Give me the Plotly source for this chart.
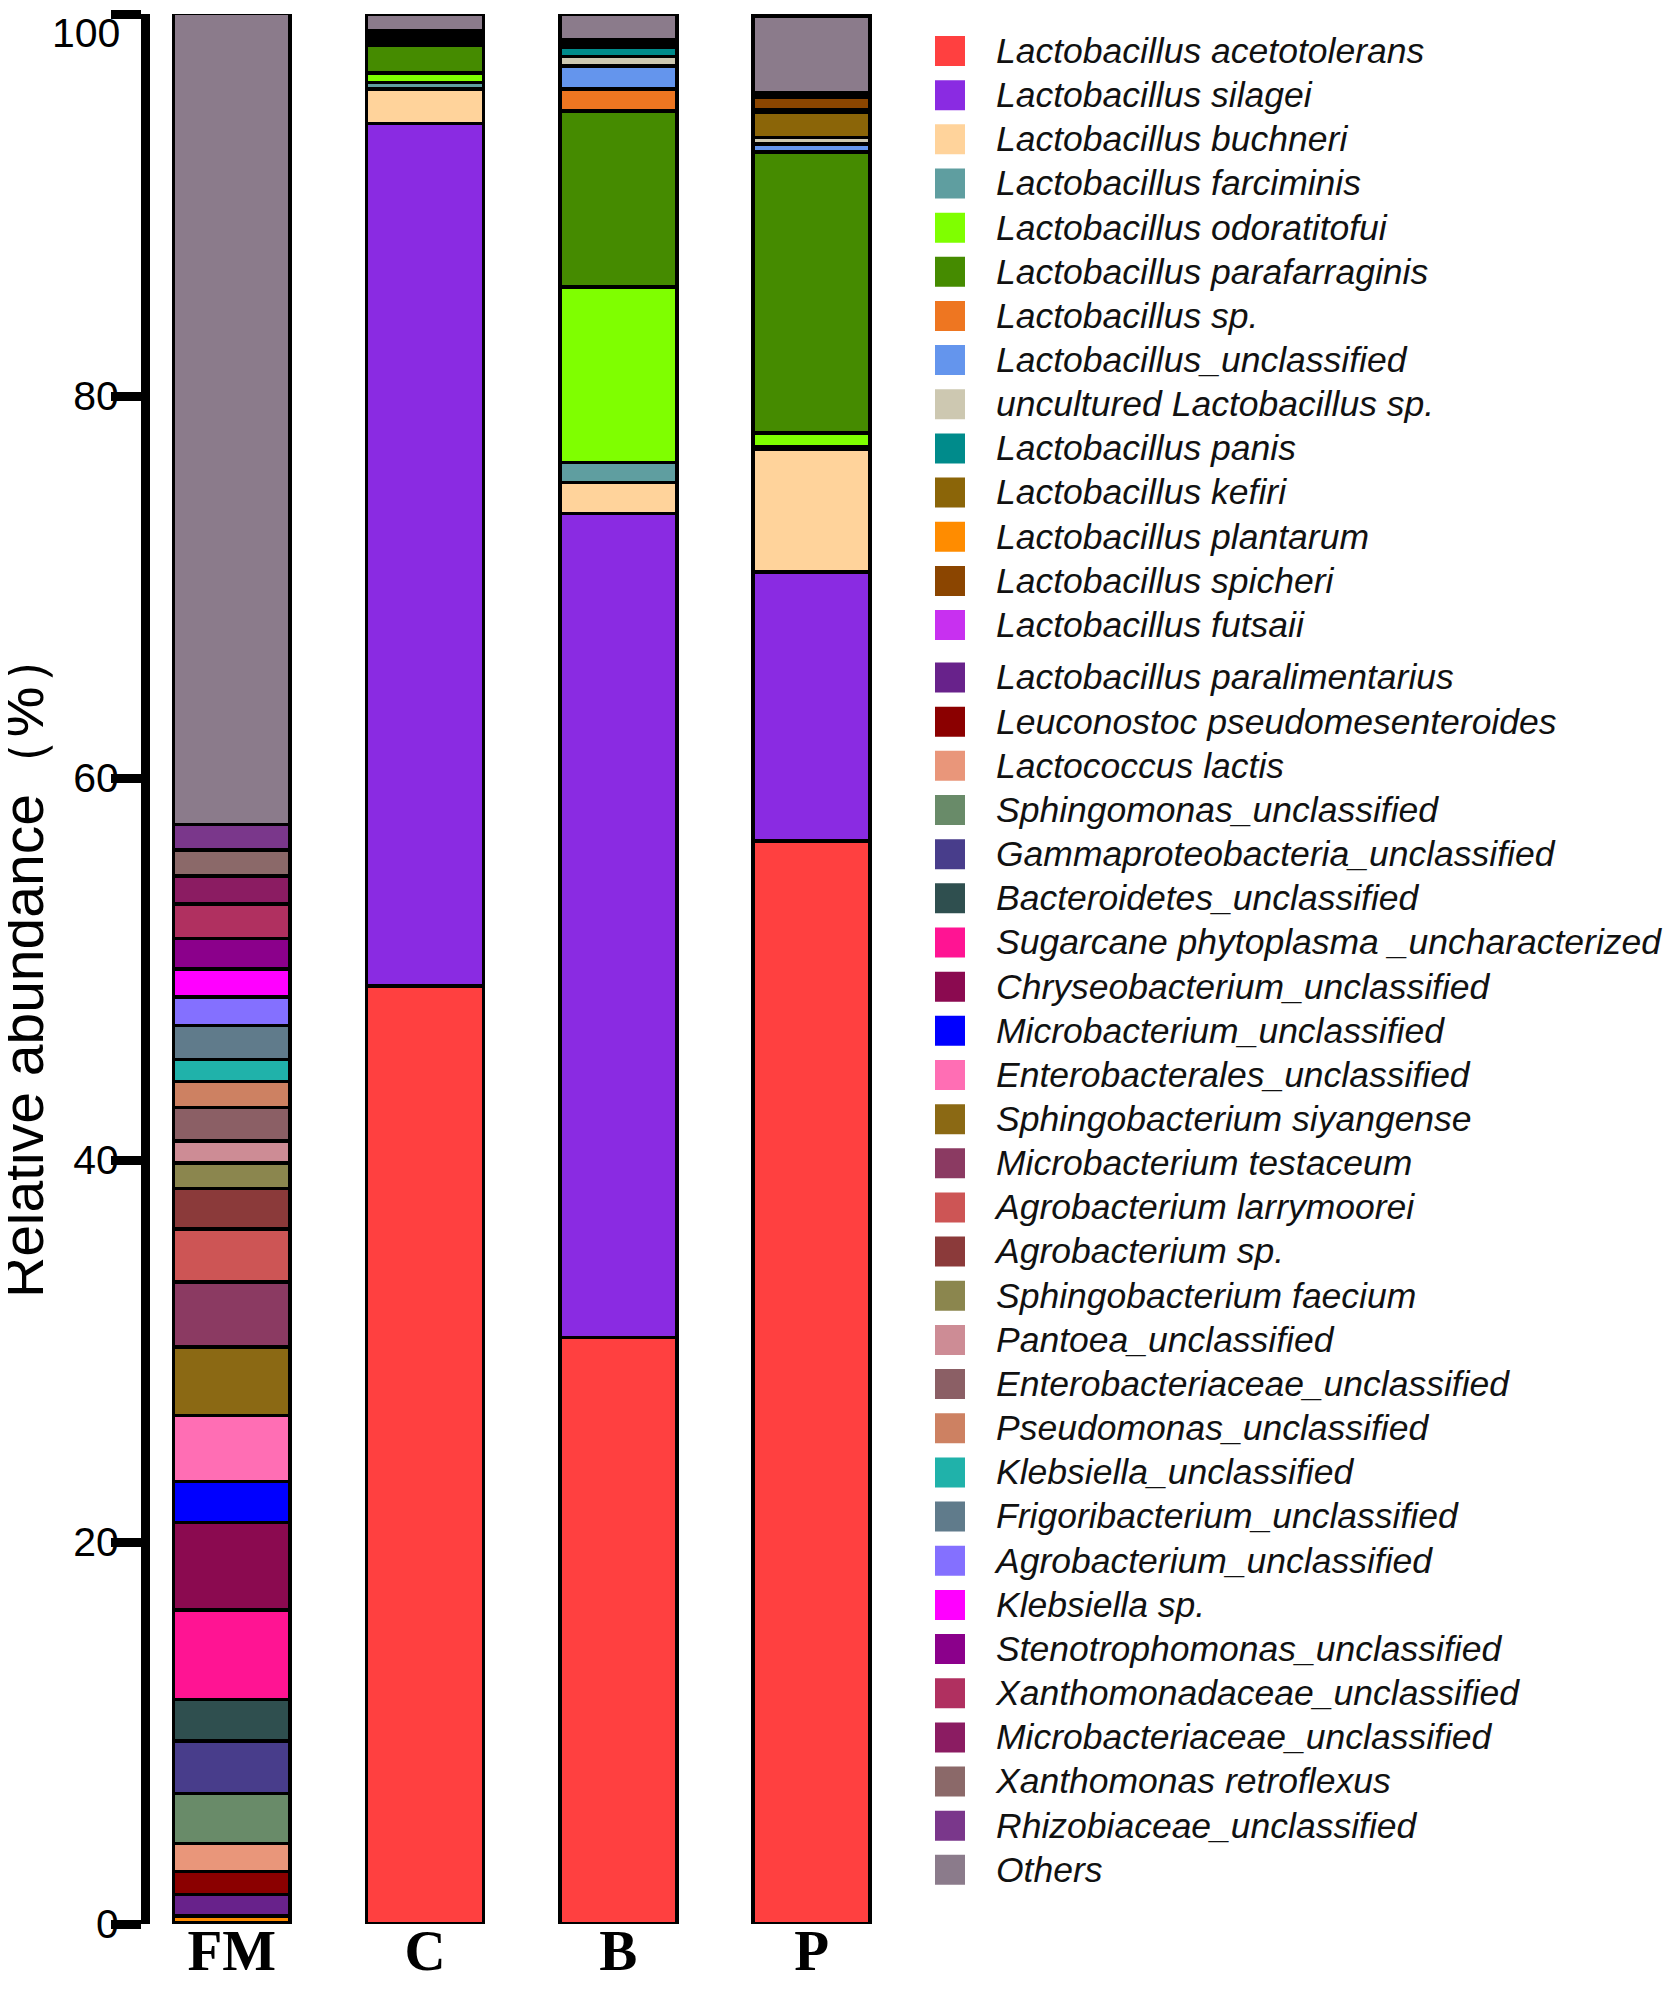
import plotly.graph_objects as go

# sample groups and taxa (stacked bottom -> top in this order)
groups = ["FM", "C", "B", "P"]

species = [
    "Lactobacillus acetotolerans", "Lactobacillus silagei", "Lactobacillus buchneri",
    "Lactobacillus farciminis", "Lactobacillus odoratitofui", "Lactobacillus parafarraginis",
    "Lactobacillus sp.", "Lactobacillus_unclassified", "uncultured Lactobacillus sp.",
    "Lactobacillus panis", "Lactobacillus kefiri", "Lactobacillus plantarum",
    "Lactobacillus spicheri", "Lactobacillus futsaii", "Lactobacillus paralimentarius",
    "Leuconostoc pseudomesenteroides", "Lactococcus lactis", "Sphingomonas_unclassified",
    "Gammaproteobacteria_unclassified", "Bacteroidetes_unclassified",
    "Sugarcane phytoplasma _uncharacterized", "Chryseobacterium_unclassified",
    "Microbacterium_unclassified", "Enterobacterales_unclassified",
    "Sphingobacterium siyangense", "Microbacterium testaceum", "Agrobacterium larrymoorei",
    "Agrobacterium sp.", "Sphingobacterium faecium", "Pantoea_unclassified",
    "Enterobacteriaceae_unclassified", "Pseudomonas_unclassified", "Klebsiella_unclassified",
    "Frigoribacterium_unclassified", "Agrobacterium_unclassified", "Klebsiella sp.",
    "Stenotrophomonas_unclassified", "Xanthomonadaceae_unclassified",
    "Microbacteriaceae_unclassified", "Xanthomonas retroflexus", "Rhizobiaceae_unclassified",
    "Others",
]

colors = [
    "#FF4040", "#8A2BE2", "#FFD39B", "#5F9EA0", "#7FFF00", "#458B00", "#EE7621",
    "#6495ED", "#CDC8B1", "#008B8B", "#8B6508", "#FF8C00", "#8B4500", "#C830F0",
    "#68228B", "#8B0000", "#E9967A", "#698B69", "#483D8B", "#2F4F4F", "#FF1493",
    "#8B0A50", "#0000FF", "#FF6EB4", "#8B6914", "#8B3A62", "#CD5555", "#8B3A3A",
    "#8B864E", "#CD8C95", "#8B5F65", "#CD8162", "#20B2AA", "#607B8B", "#8470FF",
    "#FF00FF", "#8B008B", "#B03060", "#8B1C62", "#8B6969", "#7A378B", "#8B7B8B",
]

# relative abundance (%) per group, same order as species
fm_values = [0, 0, 0.08, 0, 0, 0, 0, 0, 0, 0, 0, 0.34, 0, 0, 1.13,
             1.19, 1.47, 2.61, 2.75, 2.18, 4.69, 4.58, 2.16, 3.44, 3.59, 3.39, 2.78,
             2.13, 1.33, 1.15, 1.77, 1.34, 1.17, 1.77, 1.50, 1.45, 1.61, 1.80, 1.47,
             1.35, 1.34, 42.46]
c_values = [49.1, 45.16, 1.82, 0.33, 0.49, 1.44, 0.15, 0.15, 0.15, 0.12, 0.10, 0, 0.10, 0, 0,
            0, 0, 0, 0, 0, 0, 0, 0, 0, 0, 0, 0, 0, 0, 0, 0, 0, 0, 0, 0, 0, 0, 0, 0,
            0, 0, 0.89]
b_values = [30.7, 43.16, 1.62, 1.05, 9.19, 9.21, 1.15, 1.19, 0.51, 0.49, 0.13, 0.10, 0.15, 0, 0,
            0, 0, 0, 0, 0, 0, 0, 0, 0, 0, 0, 0, 0, 0, 0, 0, 0, 0, 0, 0, 0, 0, 0, 0,
            0, 0, 1.35]
p_values = [56.7, 14.09, 6.42, 0.14, 0.70, 14.72, 0, 0.42, 0.35, 0, 1.31, 0.16, 0.61, 0.10, 0.08,
            0.10, 0, 0, 0, 0, 0, 0, 0, 0, 0, 0, 0, 0, 0, 0, 0, 0, 0, 0, 0, 0, 0, 0, 0,
            0, 0, 4.0]

y_ticks = [0, 20, 40, 60, 80, 100]

# the page adds an 8px body margin, so the figure is 16px smaller than the window
W, H = 1655, 1977
L, T, B = 142, 6, 61

fig = go.Figure()

for i, name in enumerate(species):
    fig.add_trace(go.Bar(
        x=groups,
        y=[fm_values[i], c_values[i], b_values[i], p_values[i]],
        name=name,
        marker=dict(color=colors[i], line=dict(color="black", width=3.5)),
        showlegend=False,
    ))

# hand-built legend on its own axes (bigger swatches than plotly's legend)
leg_y = [43 + 44.16 * i + (8.3 if i >= 14 else 0) for i in range(len(species))]
fig.add_trace(go.Scatter(
    x=[942] * len(species), y=leg_y, mode="markers",
    marker=dict(symbol="square", size=30, color=colors, line=dict(width=0)),
    xaxis="x2", yaxis="y2", showlegend=False, hoverinfo="skip",
))
fig.add_trace(go.Scatter(
    x=[988] * len(species), y=[v + 3 for v in leg_y], mode="text",
    text=[f"<i>{s}</i>" for s in species], textposition="middle right",
    textfont=dict(family="Liberation Sans", size=35.5, color="#111111"),
    xaxis="x2", yaxis="y2", showlegend=False, hoverinfo="skip",
))

fig.add_annotation(
    text="Relative abundance（%）", textangle=-90,
    xref="paper", yref="paper", x=0, y=0.5,
    xanchor="right", yanchor="middle", xshift=-93, yshift=5,
    showarrow=False,
    font=dict(family="Liberation Sans", size=57, color="black"),
)
# top tick label kept inside the page (it is half cut in the original)
fig.add_annotation(
    text=str(y_ticks[-1]), xref="paper", yref="y", x=0, y=y_ticks[-1],
    xanchor="right", yanchor="top", xshift=-28, yshift=T,
    showarrow=False, font=dict(family="Liberation Sans", size=41, color="black"),
)

fig.update_layout(
    width=W, height=H,
    margin=dict(l=L, r=0, t=T, b=B),
    paper_bgcolor="white", plot_bgcolor="white",
    barmode="stack", bargap=0.395,
    font=dict(family="Liberation Sans", color="black"),
    showlegend=False,
    xaxis=dict(
        domain=[0, 0.5], range=[-0.423, 3.491],
        showline=False, showgrid=False, zeroline=False, ticks="",
        tickfont=dict(family="Liberation Serif", size=57, weight="bold", color="black"),
        ticklabelstandoff=-12,
    ),
    yaxis=dict(
        range=[0, 100], tickvals=y_ticks,
        ticktext=[str(v) for v in y_ticks[:-1]] + [""],
        showline=True, linecolor="black", linewidth=9,
        ticks="outside", ticklen=30, tickwidth=9, tickcolor="black",
        showgrid=False, zeroline=False, ticklabelstandoff=-16,
        tickfont=dict(family="Liberation Sans", size=41, color="black"),
    ),
    xaxis2=dict(domain=[0.5, 1], range=[(W - L) * 0.5 + L, W], visible=False),
    yaxis2=dict(domain=[0, 1], range=[H - B, T], visible=False, anchor="x2"),
)

fig.write_html("out.html")
